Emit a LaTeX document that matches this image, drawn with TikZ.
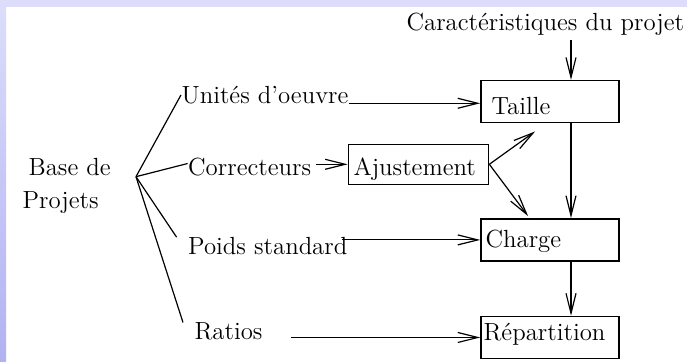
\documentclass[tikz,border=0pt]{standalone}
\usepackage{tikz}
\usetikzlibrary{arrows.meta}
\definecolor{bandtop}{RGB}{221,221,251}
\definecolor{bandbot}{RGB}{178,178,243}

\begin{document}
\begin{tikzpicture}[x=0.5pt,y=-0.5pt,line width=0.6pt,
    every node/.style={inner sep=0pt,font=\fontsize{12.4}{16.3}\selectfont},
    lbl/.style={anchor=base west},
    bloc/.style={draw,line width=0.75pt,minimum width=69.1pt,minimum height=21pt},
    arr/.style={-{Straight Barb[length=10pt,width=5pt]}}]
    \useasboundingbox (0,0) rectangle (687,362);
    \fill[white] (0,0) rectangle (687,362);
    \fill[bandtop] (0,0) rectangle (687,7);
    \shade[top color=bandtop,bottom color=bandbot] (0,0) rectangle (6,362);
    \node[bloc] (taille) at (550.1,101.7) {};
    \node[bloc,minimum width=70.1pt,minimum height=20pt] (ajust) at (418.5,164.3) {};
    \node[bloc] (charge) at (550.1,239.9) {};
    \node[bloc] (repart) at (550.1,337.5) {};
    \node[lbl] (tailleT) at (491,115) {Taille};
    \node[lbl] (ajustT) at (353,175.7) {Ajustement};
    \node[lbl] (chargeT) at (485,248) {Charge};
    \node[lbl] (repartT) at (483,341) {Répartition};
    \node[lbl] (caract) at (406,30.7) {Caractéristiques du projet};
    \node[lbl] (unites) at (181,103.3) {Unités d'oeuvre};
    \node[lbl] (correct) at (187.6,176) {Correcteurs};
    \node[lbl] (poids) at (187.6,255) {Poids standard};
    \node[lbl] (ratios) at (194,340) {Ratios};
    \node[align=left,anchor=west] (base) at (22,186) {\hspace*{3pt}Base de\\Projets};
    \coordinate (fan) at (136,176.7);
    \coordinate (axe) at (571,0);
    \draw (fan) -- (unites.west);
    \draw (fan) -- ([yshift=2pt]correct.west);
    \draw (fan) -- ([xshift=-5.5pt]poids.north west);
    \draw (fan) -- ([xshift=-5.5pt]ratios.north west);
    \draw[arr,shorten <=2pt] (caract.south -| axe) -- (taille.north -| axe);
    \draw[arr] (taille.south -| axe) -- (charge.north -| axe);
    \draw[arr] (charge.south -| axe) -- (repart.north -| axe);
    \draw[arr] (unites.base east) -- (unites.base east -| taille.west);
    \draw[arr,shorten <=2pt] (correct.east |- ajust.west) -- (ajust.west);
    \draw[arr,shorten <=-3pt] (poids.east |- charge.west) -- (charge.west);
    \draw[arr,shorten <=14pt] (ratios.east |- repart.west) -- (repart.west);
    \draw[arr] (ajust.east) -- ([shift={(-15,8)}]taille.south);
    \draw[arr] (ajust.east) -- ([shift={(-22,-2)}]charge.north);
\end{tikzpicture}
\end{document}
